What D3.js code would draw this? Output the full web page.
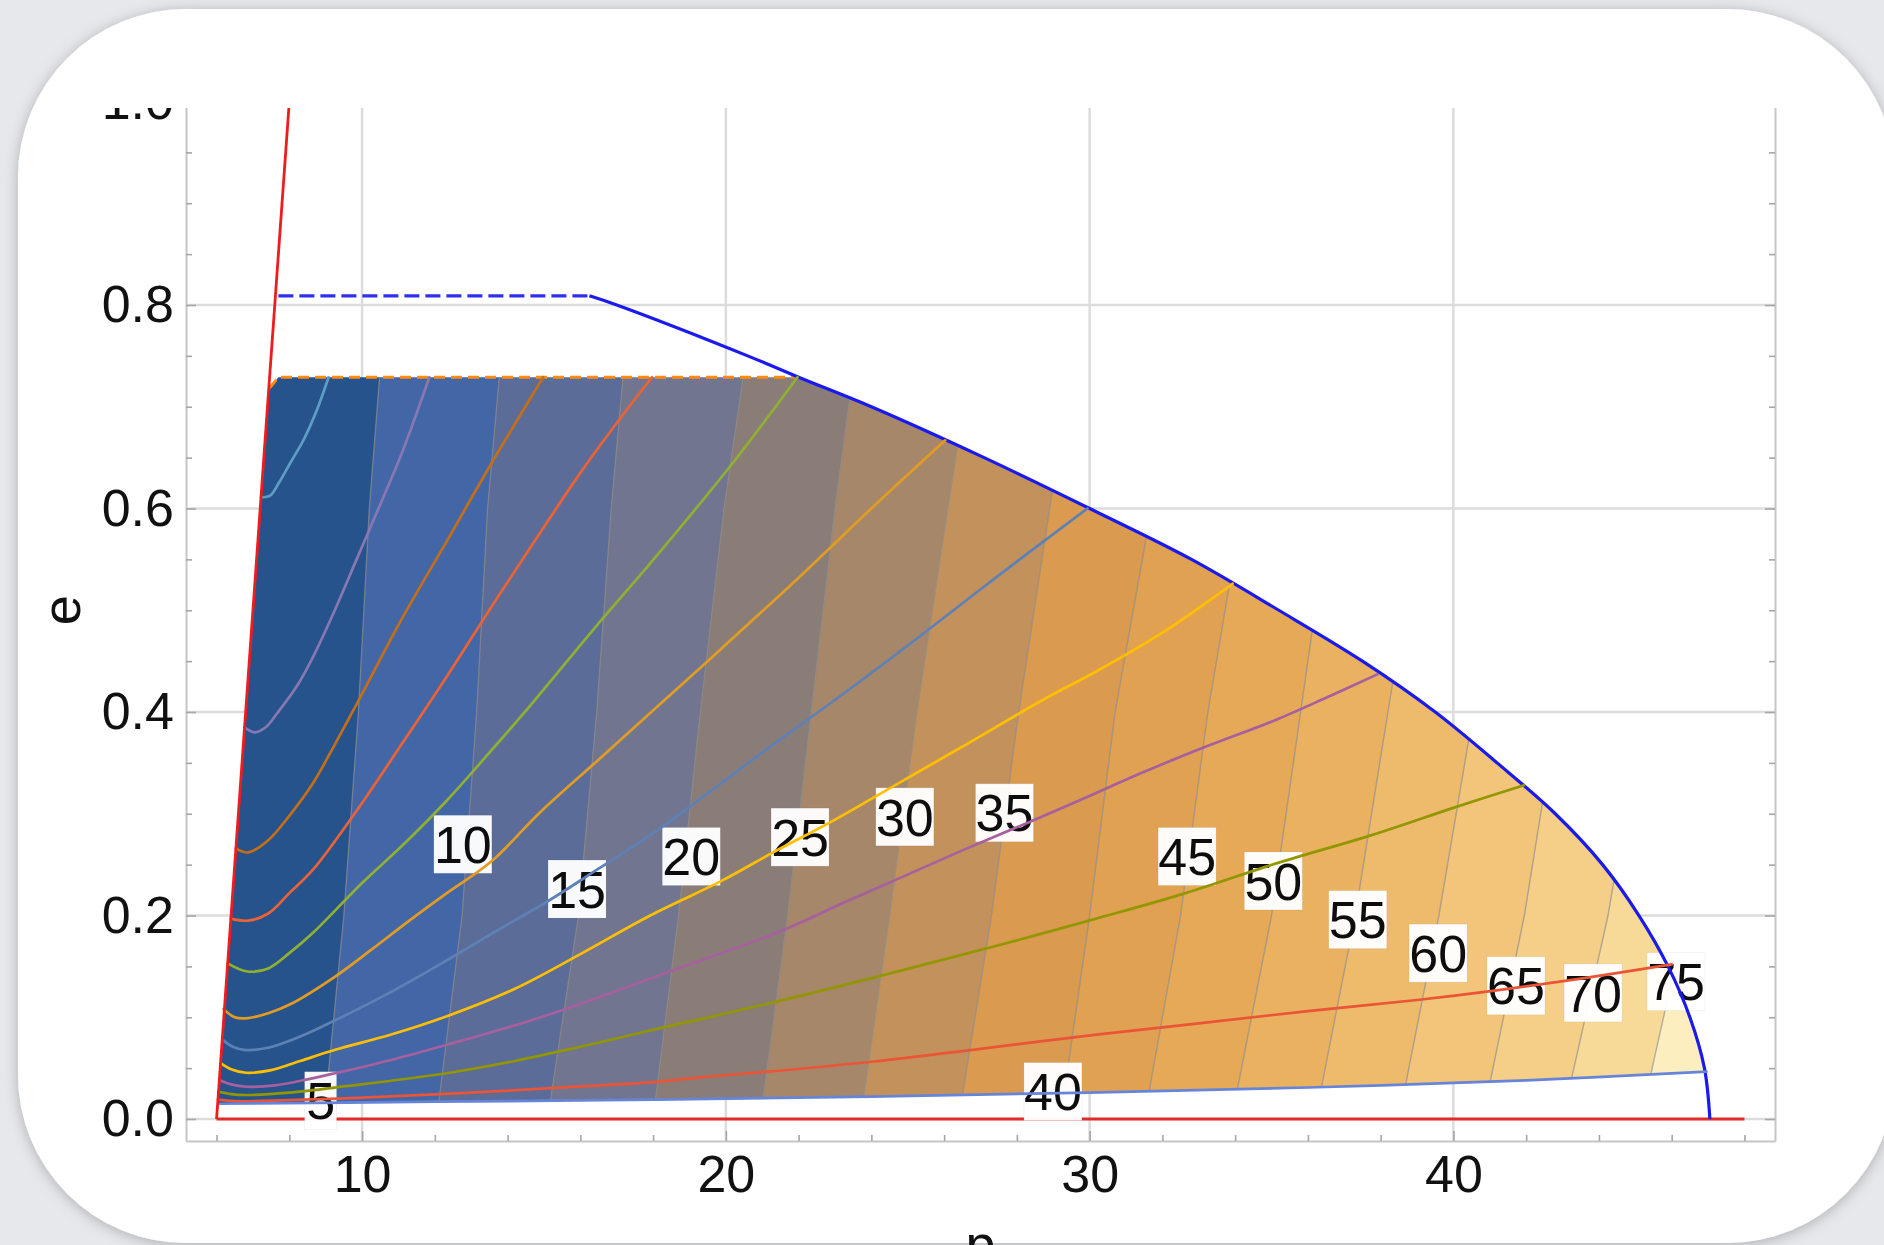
<!DOCTYPE html>
<html>
<head>
<meta charset="utf-8">
<script src="https://cdn.jsdelivr.net/npm/d3@7"></script>
<style>
  html, body { margin: 0; padding: 0; background: #e6e8eb; }
  svg { display: block; }
</style>
</head>
<body>
<svg id="chart" width="1884" height="1245"></svg>
<script>
// ---------------- data ----------------
const xTicksMajor = [10, 20, 30, 40];
const xTicksMinor = [6, 8, 12, 14, 16, 18, 22, 24, 26, 28, 32, 34, 36, 38, 42, 44, 46, 48];
const yTicksMajor = [0, 0.2, 0.4, 0.6, 0.8, 1.0];
const yTickLabels = ["0.0", "0.2", "0.4", "0.6", "0.8", "1.0"];
const yTicksMinor = [0.05, 0.1, 0.15, 0.25, 0.3, 0.35, 0.45, 0.5, 0.55, 0.65, 0.7, 0.75, 0.85, 0.9, 0.95];

// filled contour levels: p position of each level line at the eccentricities in contourE
const contourLevels = [5, 10, 15, 20, 25, 30, 35, 40, 45, 50, 55, 60, 65, 70, 75];
const contourE = [0, 0.2, 0.4, 0.6, 0.76];
const contourP = [
  [8.95, 9.5, 9.9, 10.2, 10.55],
  [12.05, 12.75, 13.15, 13.45, 13.85],
  [15.1, 15.95, 16.45, 16.85, 17.25],
  [18.0, 18.7, 19.3, 19.95, 20.6],
  [20.95, 21.7, 22.35, 23.0, 23.6],
  [23.7, 24.5, 25.25, 26.1, 26.8],
  [26.4, 27.3, 28.05, 28.9, 29.6],
  [29.2, 30.0, 30.7, 31.7, 32.4],
  [31.5, 32.5, 33.25, 34.2, 35.0],
  [33.9, 35.0, 35.8, 36.6, 37.3],
  [36.2, 37.3, 38.2, 39.1, 39.9],
  [38.5, 39.6, 40.55, 41.4, 42.2],
  [40.8, 41.95, 42.85, 43.6, 44.4],
  [43.0, 44.25, 45.2, 46.1, 46.9],
  [45.15, 46.4, 47.3, 48.1, 48.8]
];
const bandColors = ["#26538B", "#4366A7", "#5B6C98", "#72758F", "#8A7D78", "#A6876A", "#C3915C", "#DA9A50",
                    "#E1A152", "#E6A957", "#EAB161", "#EEBB6C", "#F2C57A", "#F5CF88", "#F8DA98", "#FCEEBF"];

// contour labels
const labelValues = [5, 10, 15, 20, 25, 30, 35, 40, 45, 50, 55, 60, 65, 70, 75];
const labelP = [8.86, 12.77, 15.91, 19.05, 22.04, 24.92, 27.66, 28.99, 32.68, 35.05, 37.37, 39.58, 41.72, 43.84, 46.12];
const labelE = [0.018, 0.270, 0.226, 0.258, 0.277, 0.297, 0.301, 0.027, 0.258, 0.234, 0.196, 0.163, 0.131, 0.124, 0.135];

// separatrix and outer limits
const separatrixP = [6.0, 8.04];
const separatrixE = [0.0, 1.02];
const circularP = [6.0, 48.0];           // e = 0 line
const semiMajorP = [16.25, 17.0, 20.6, 22.0, 24.0, 27.1, 30.0, 32.8, 35.2, 37.5, 39.5, 41.2, 42.8, 44.1, 45.1, 45.9, 46.5, 46.9, 47.05];
const semiMajorE = [0.809, 0.80, 0.75, 0.729, 0.70, 0.65, 0.60, 0.55, 0.50, 0.45, 0.40, 0.35, 0.30, 0.25, 0.20, 0.15, 0.10, 0.05, 0.0];
const capOrangeP = [7.45, 7.7, 22.0];
const capOrangeE = [0.718, 0.729, 0.729];
const capBlueP = [7.7, 16.25];
const capBlueE = [0.809, 0.809];

// inspiral tracks [p, e]
const trackA = [[7.22,0.611],[7.48,0.613],[7.71,0.625],[8.03,0.645],[8.40,0.668],[8.76,0.697],[9.08,0.729]];
const trackB = [[6.77,0.385],[7.05,0.380],[7.35,0.385],[7.67,0.399],[8.2,0.425],[8.65,0.454],[9.25,0.50],[9.85,0.550],[10.5,0.604],[11.1,0.655],[11.85,0.729]];
const trackC = [[6.53,0.266],[6.87,0.262],[7.42,0.274],[8.0,0.298],[8.65,0.330],[9.25,0.368],[9.87,0.409],[11.1,0.492],[12.33,0.568],[13.55,0.644],[14.98,0.729]];
const trackD = [[6.39,0.197],[6.87,0.195],[7.42,0.202],[8.0,0.222],[8.65,0.245],[9.87,0.304],[11.1,0.369],[12.33,0.435],[13.55,0.503],[14.78,0.570],[16.0,0.635],[17.0,0.684],[17.97,0.729]];
const trackE = [[6.3,0.153],[6.85,0.145],[7.42,0.148],[8.0,0.163],[8.65,0.183],[10.0,0.232],[11.2,0.272],[12.33,0.313],[13.5,0.36],[14.78,0.413],[16.38,0.482],[17.92,0.546],[20.13,0.642],[21.97,0.729]];
const trackF = [[6.19,0.108],[6.5,0.100],[6.81,0.099],[7.42,0.104],[8.04,0.113],[9.26,0.140],[10.24,0.166],[11.3,0.195],[12.33,0.222],[13.55,0.253],[14.91,0.302],[16.4,0.350],[17.92,0.399],[19.9,0.463],[21.97,0.531],[24.0,0.600],[26.03,0.667]];
const trackG = [[6.16,0.078],[6.45,0.071],[6.75,0.068],[7.42,0.070],[8.3,0.081],[9.26,0.097],[10.8,0.125],[12.33,0.156],[13.7,0.185],[15.15,0.215],[16.5,0.246],[17.92,0.279],[19.5,0.32],[21.11,0.363],[23.08,0.414],[25.28,0.473],[27.6,0.537],[29.94,0.600]];
const trackH = [[6.11,0.055],[6.4,0.049],[6.81,0.0455],[7.5,0.048],[8.3,0.057],[9.26,0.068],[10.8,0.083],[12.33,0.101],[14.2,0.128],[16.0,0.162],[17.92,0.200],[19.88,0.234],[21.3,0.262],[22.89,0.292],[24.55,0.326],[26.6,0.368],[28.72,0.412],[30.19,0.440],[32.0,0.478],[33.93,0.526]];
const trackI = [[6.08,0.038],[6.4,0.034],[6.81,0.0317],[7.6,0.033],[8.5,0.039],[9.26,0.045],[10.8,0.058],[12.33,0.073],[14.2,0.092],[16.0,0.113],[17.92,0.138],[19.8,0.162],[21.6,0.186],[23.2,0.212],[24.79,0.237],[26.5,0.264],[28.35,0.292],[29.9,0.316],[31.42,0.340],[33.2,0.366],[35.1,0.392],[36.5,0.414],[37.91,0.437]];
const trackJ = [[6.05,0.027],[6.4,0.0245],[6.81,0.0236],[8.0,0.026],[9.5,0.032],[12.33,0.045],[14.2,0.057],[16.0,0.071],[17.92,0.087],[21.0,0.112],[24.06,0.139],[27.73,0.173],[30.29,0.198],[32.64,0.222],[35.2,0.252],[37.75,0.279],[40.1,0.307],[41.94,0.328]];
const trackK = [[6.04,0.019],[6.5,0.0175],[7.5,0.018],[10.0,0.021],[13.0,0.026],[16.0,0.032],[17.92,0.036],[19.3,0.041],[21.0,0.046],[24.06,0.0565],[27.0,0.069],[30.19,0.083],[33.0,0.094],[36.0,0.106],[39.0,0.117],[41.08,0.126],[43.5,0.138],[46.0,0.152]];
const trackL = [[6.1,0.015],[12.0,0.017],[18.0,0.019],[24.0,0.022],[30.0,0.026],[36.0,0.031],[42.0,0.038],[46.96,0.0465]];
const tracks = [trackA, trackB, trackC, trackD, trackE, trackF, trackG, trackH, trackI, trackJ, trackK, trackL];
const trackColors = ["#5D9EC7", "#8778B3", "#C56E1A", "#EB6235", "#8FB032", "#E19C24",
                     "#5E81B5", "#FFBF00", "#A5609D", "#929600", "#E95536", "#6685D9"];

// ---------------- drawing ----------------
const W = 1884, H = 1245;
const FONT = "'Liberation Sans', Arial, Helvetica, sans-serif";
const svg = d3.select("#chart");
const defs = svg.append("defs");

const x = d3.scaleLinear().domain([5.16, 48.84]).range([186, 1775]);
const y = d3.scaleLinear().domain([-0.0216, 1.0216]).range([1141, 79.5]);

// card
const shadow = defs.append("filter").attr("id", "cardShadow")
  .attr("x", "-5%").attr("y", "-5%").attr("width", "110%").attr("height", "110%");
shadow.append("feDropShadow").attr("dx", 0).attr("dy", 2).attr("stdDeviation", 7)
  .attr("flood-color", "#000").attr("flood-opacity", 0.25);
svg.append("rect").attr("x", 18).attr("y", 9).attr("width", 1877).attr("height", 1234)
  .attr("rx", 168).attr("fill", "#ffffff").attr("filter", "url(#cardShadow)");

defs.append("clipPath").attr("id", "topCrop")
  .append("rect").attr("x", 0).attr("y", 108).attr("width", W).attr("height", H - 108);
const chart = svg.append("g").attr("clip-path", "url(#topCrop)");

// grid
const grid = chart.append("g").attr("stroke", "#dcdcdc").attr("stroke-width", 2.5);
grid.selectAll("line.v").data(xTicksMajor).join("line").attr("class", "v")
  .attr("x1", d => x(d)).attr("x2", d => x(d)).attr("y1", y.range()[1]).attr("y2", y.range()[0]);
grid.selectAll("line.h").data(yTicksMajor).join("line").attr("class", "h")
  .attr("x1", x.range()[0]).attr("x2", x.range()[1]).attr("y1", d => y(d)).attr("y2", d => y(d));

// helpers
const pxLine = d3.line().x(d => x(d[0])).y(d => y(d[1]));
const smoothLine = d3.line().curve(d3.curveCatmullRom.alpha(0.5)).x(d => x(d[0])).y(d => y(d[1]));
function samplePixels(pts, n) {
  const tmp = svg.append("path").attr("d", smoothLine(pts)).attr("fill", "none");
  const node = tmp.node(), len = node.getTotalLength(), out = [];
  for (let i = 0; i <= n; i++) { const q = node.getPointAtLength(len * i / n); out.push([q.x, q.y]); }
  tmp.remove();
  return out;
}
function separatrixAt(e) {
  const t = (e - separatrixE[0]) / (separatrixE[1] - separatrixE[0]);
  return separatrixP[0] + t * (separatrixP[1] - separatrixP[0]);
}
const boundaryPts = semiMajorP.map((p, i) => [p, semiMajorE[i]]);

// region covered by the tracks
const eStart = trackL[0][1], eEnd = trackL[trackL.length - 1][1];
const region = [];
region.push([x(separatrixAt(eStart)), y(eStart)]);
capOrangeP.forEach((p, i) => region.push([x(p), y(capOrangeE[i])]));
samplePixels(boundaryPts, 700).forEach(q => {
  if (q[1] > y(capOrangeE[2]) + 0.5 && q[1] < y(eEnd) - 0.5) region.push(q);
});
samplePixels(trackL, 300).reverse().forEach(q => region.push(q));
defs.append("clipPath").attr("id", "regionClip")
  .append("path").attr("d", "M" + region.map(q => q[0].toFixed(2) + "," + q[1].toFixed(2)).join("L") + "Z");

// filled bands
const bandG = chart.append("g").attr("clip-path", "url(#regionClip)");
const levelLine = k => contourE.map((e, i) => [contourP[k][i], e]);
for (let k = 0; k <= contourLevels.length; k++) {
  const left = k === 0 ? contourE.map(e => [5.0, e]) : levelLine(k - 1);
  const right = k === contourLevels.length ? contourE.map(e => [50.0, e]) : levelLine(k);
  const poly = left.concat(right.slice().reverse());
  bandG.append("path").attr("d", pxLine(poly) + "Z")
    .attr("fill", bandColors[k]).attr("stroke", bandColors[k]).attr("stroke-width", 0.6);
}
contourLevels.forEach((lv, k) => {
  bandG.append("path").attr("d", pxLine(levelLine(k))).attr("fill", "none")
    .attr("stroke", "#8a8a8a").attr("stroke-opacity", 0.65).attr("stroke-width", 1.4);
});

// e = 0 line
chart.append("path").attr("d", pxLine(circularP.map(p => [p, 0])))
  .attr("stroke", "#E22B2B").attr("stroke-width", 3.2).attr("fill", "none");

// contour labels
const lg = chart.append("g").attr("font-family", FONT).attr("font-size", 52).attr("fill", "#0d0d0d");
labelValues.forEach((v, i) => {
  const w = String(v).length === 1 ? 32 : 58, h = 58;
  const g = lg.append("g").attr("transform", `translate(${x(labelP[i])},${y(labelE[i])})`);
  g.append("rect").attr("x", -w / 2).attr("y", -h / 2).attr("width", w).attr("height", h)
    .attr("fill", "#fff").attr("fill-opacity", 0.96).attr("stroke", "#000").attr("stroke-opacity", 0.05);
  g.append("text").attr("text-anchor", "middle").attr("dy", "0.36em").text(v);
});

// caps and boundaries
chart.append("path").attr("d", pxLine(capOrangeP.map((p, i) => [p, capOrangeE[i]])))
  .attr("fill", "none").attr("stroke", "#FF8A14").attr("stroke-width", 3).attr("stroke-dasharray", "11,6");
chart.append("path").attr("d", pxLine(capBlueP.map((p, i) => [p, capBlueE[i]])))
  .attr("fill", "none").attr("stroke", "#2F2FF0").attr("stroke-width", 3.2).attr("stroke-dasharray", "15,6");
chart.append("path").attr("d", smoothLine(boundaryPts))
  .attr("fill", "none").attr("stroke", "#1a1aef").attr("stroke-width", 3.2);

// inspiral tracks
chart.append("g").selectAll("path").data(tracks).join("path")
  .attr("d", d => smoothLine(d)).attr("fill", "none")
  .attr("stroke", (d, i) => trackColors[i]).attr("stroke-width", 2.7)
  .attr("stroke-linejoin", "round").attr("stroke-linecap", "round");

// separatrix
chart.append("path").attr("d", pxLine(separatrixP.map((p, i) => [p, separatrixE[i]])))
  .attr("stroke", "#EE1C1C").attr("stroke-width", 2.8).attr("fill", "none");

// axes
function styleAxis(g, withText) {
  g.attr("font-family", FONT).attr("font-size", 52).attr("color", "#111");
  g.select(".domain").attr("stroke", "#c6c6c6").attr("stroke-width", 2);
  g.selectAll(".tick line").attr("stroke", "#a6a6a6").attr("stroke-width", 1.6);
  if (!withText) g.selectAll(".tick text").remove();
}
const gx = chart.append("g").attr("transform", `translate(0,${y.range()[0]})`)
  .call(d3.axisBottom(x).tickValues(xTicksMajor).tickSizeInner(-10).tickSizeOuter(0).tickPadding(14).tickFormat(d3.format("d")));
styleAxis(gx, true);
const gxm = chart.append("g").attr("transform", `translate(0,${y.range()[0]})`)
  .call(d3.axisBottom(x).tickValues(xTicksMinor).tickSizeInner(-6).tickSizeOuter(0).tickFormat(""));
styleAxis(gxm, false); gxm.select(".domain").remove();

const gy = chart.append("g").attr("transform", `translate(${x.range()[0]},0)`)
  .call(d3.axisLeft(y).tickValues(yTicksMajor).tickSizeInner(-10).tickSizeOuter(0).tickPadding(12)
    .tickFormat((d, i) => yTickLabels[i]));
styleAxis(gy, true);
const gym = chart.append("g").attr("transform", `translate(${x.range()[0]},0)`)
  .call(d3.axisLeft(y).tickValues(yTicksMinor).tickSizeInner(-6).tickSizeOuter(0).tickFormat(""));
styleAxis(gym, false); gym.select(".domain").remove();

const gr = chart.append("g").attr("transform", `translate(${x.range()[1]},0)`)
  .call(d3.axisRight(y).tickValues(yTicksMajor).tickSizeInner(-10).tickSizeOuter(0).tickFormat(""));
styleAxis(gr, false);
const grm = chart.append("g").attr("transform", `translate(${x.range()[1]},0)`)
  .call(d3.axisRight(y).tickValues(yTicksMinor).tickSizeInner(-6).tickSizeOuter(0).tickFormat(""));
styleAxis(grm, false); grm.select(".domain").remove();

// axis titles
chart.append("text").attr("font-family", FONT).attr("font-size", 54).attr("fill", "#111")
  .attr("text-anchor", "middle").attr("dy", "0.26em")
  .attr("transform", `translate(66,${(y.range()[0] + y.range()[1]) / 2}) rotate(-90)`).text("e");
chart.append("text").attr("font-family", FONT).attr("font-size", 54).attr("fill", "#111")
  .attr("text-anchor", "middle").attr("x", (x.range()[0] + x.range()[1]) / 2).attr("y", 1263).text("p");
</script>
</body>
</html>
